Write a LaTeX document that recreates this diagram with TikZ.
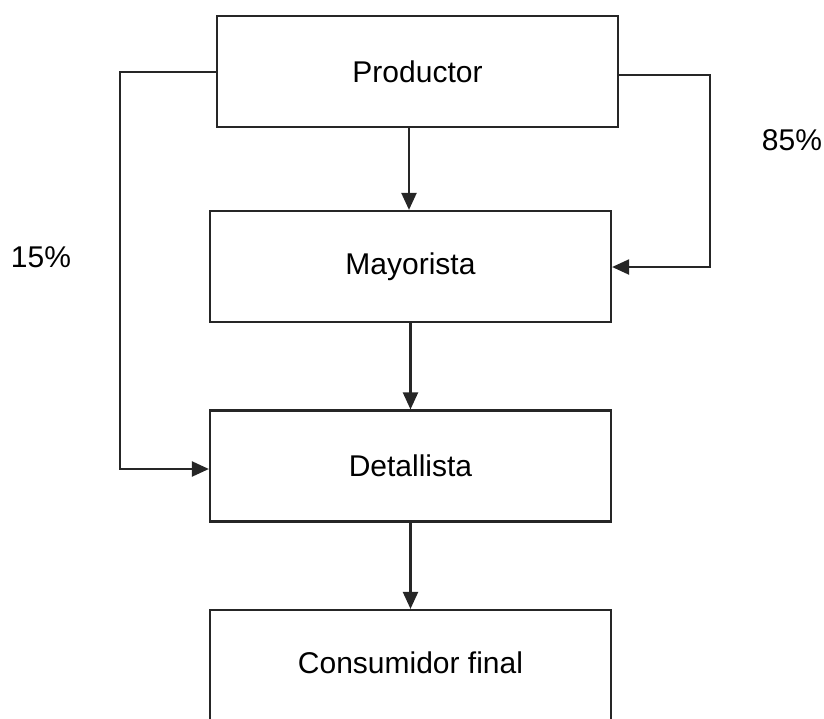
\documentclass[tikz,border=0pt]{standalone}
\usepackage{fontspec}
\setmainfont{Liberation Sans}
\usetikzlibrary{arrows.meta}
\begin{document}
\begin{tikzpicture}[x=1pt,y=-1pt,
  box/.style={draw=black!85,line width=2.2pt,rectangle,minimum width=401pt,minimum height=111pt,inner sep=0pt,font=\fontsize{30}{36}\selectfont},
  conn/.style={draw=black!85,line width=2.2pt,-{Triangle[length=17pt,width=15pt]}},
  pct/.style={font=\fontsize{30}{36}\selectfont,inner sep=0pt}]
\useasboundingbox (0,0) rectangle (824,718);
\node[box] (prod) at (417.5,71.5) {Productor};
\node[box] (may) at (410.5,266.5) {Mayorista};
\node[box] (det) at (410.5,466) {Detallista};
\node[box,minimum height=116pt] (cons) at (410.5,668) {\raisebox{11pt}{Consumidor final}};
\node[pct] (p85) at (792,140) {85\%};
\node[pct] (p15) at (41,257) {15\%};
\coordinate (l1) at (120,72);
\coordinate (l2) at (120,469);
\coordinate (r1) at (710,75);
\coordinate (r2) at (710,267);
\draw[conn] (prod.south -| 409,0) -- (may.north -| 409,0);
\draw[conn] (may.south) -- (det.north);
\draw[conn] (det.south) -- (cons.north);
\draw[conn] (prod.west |- l1) -- (l1) -- (l2) -- (det.west |- l2);
\draw[conn] (prod.east |- r1) -- (r1) -- (r2) -- (may.east |- r2);
\end{tikzpicture}
\end{document}
